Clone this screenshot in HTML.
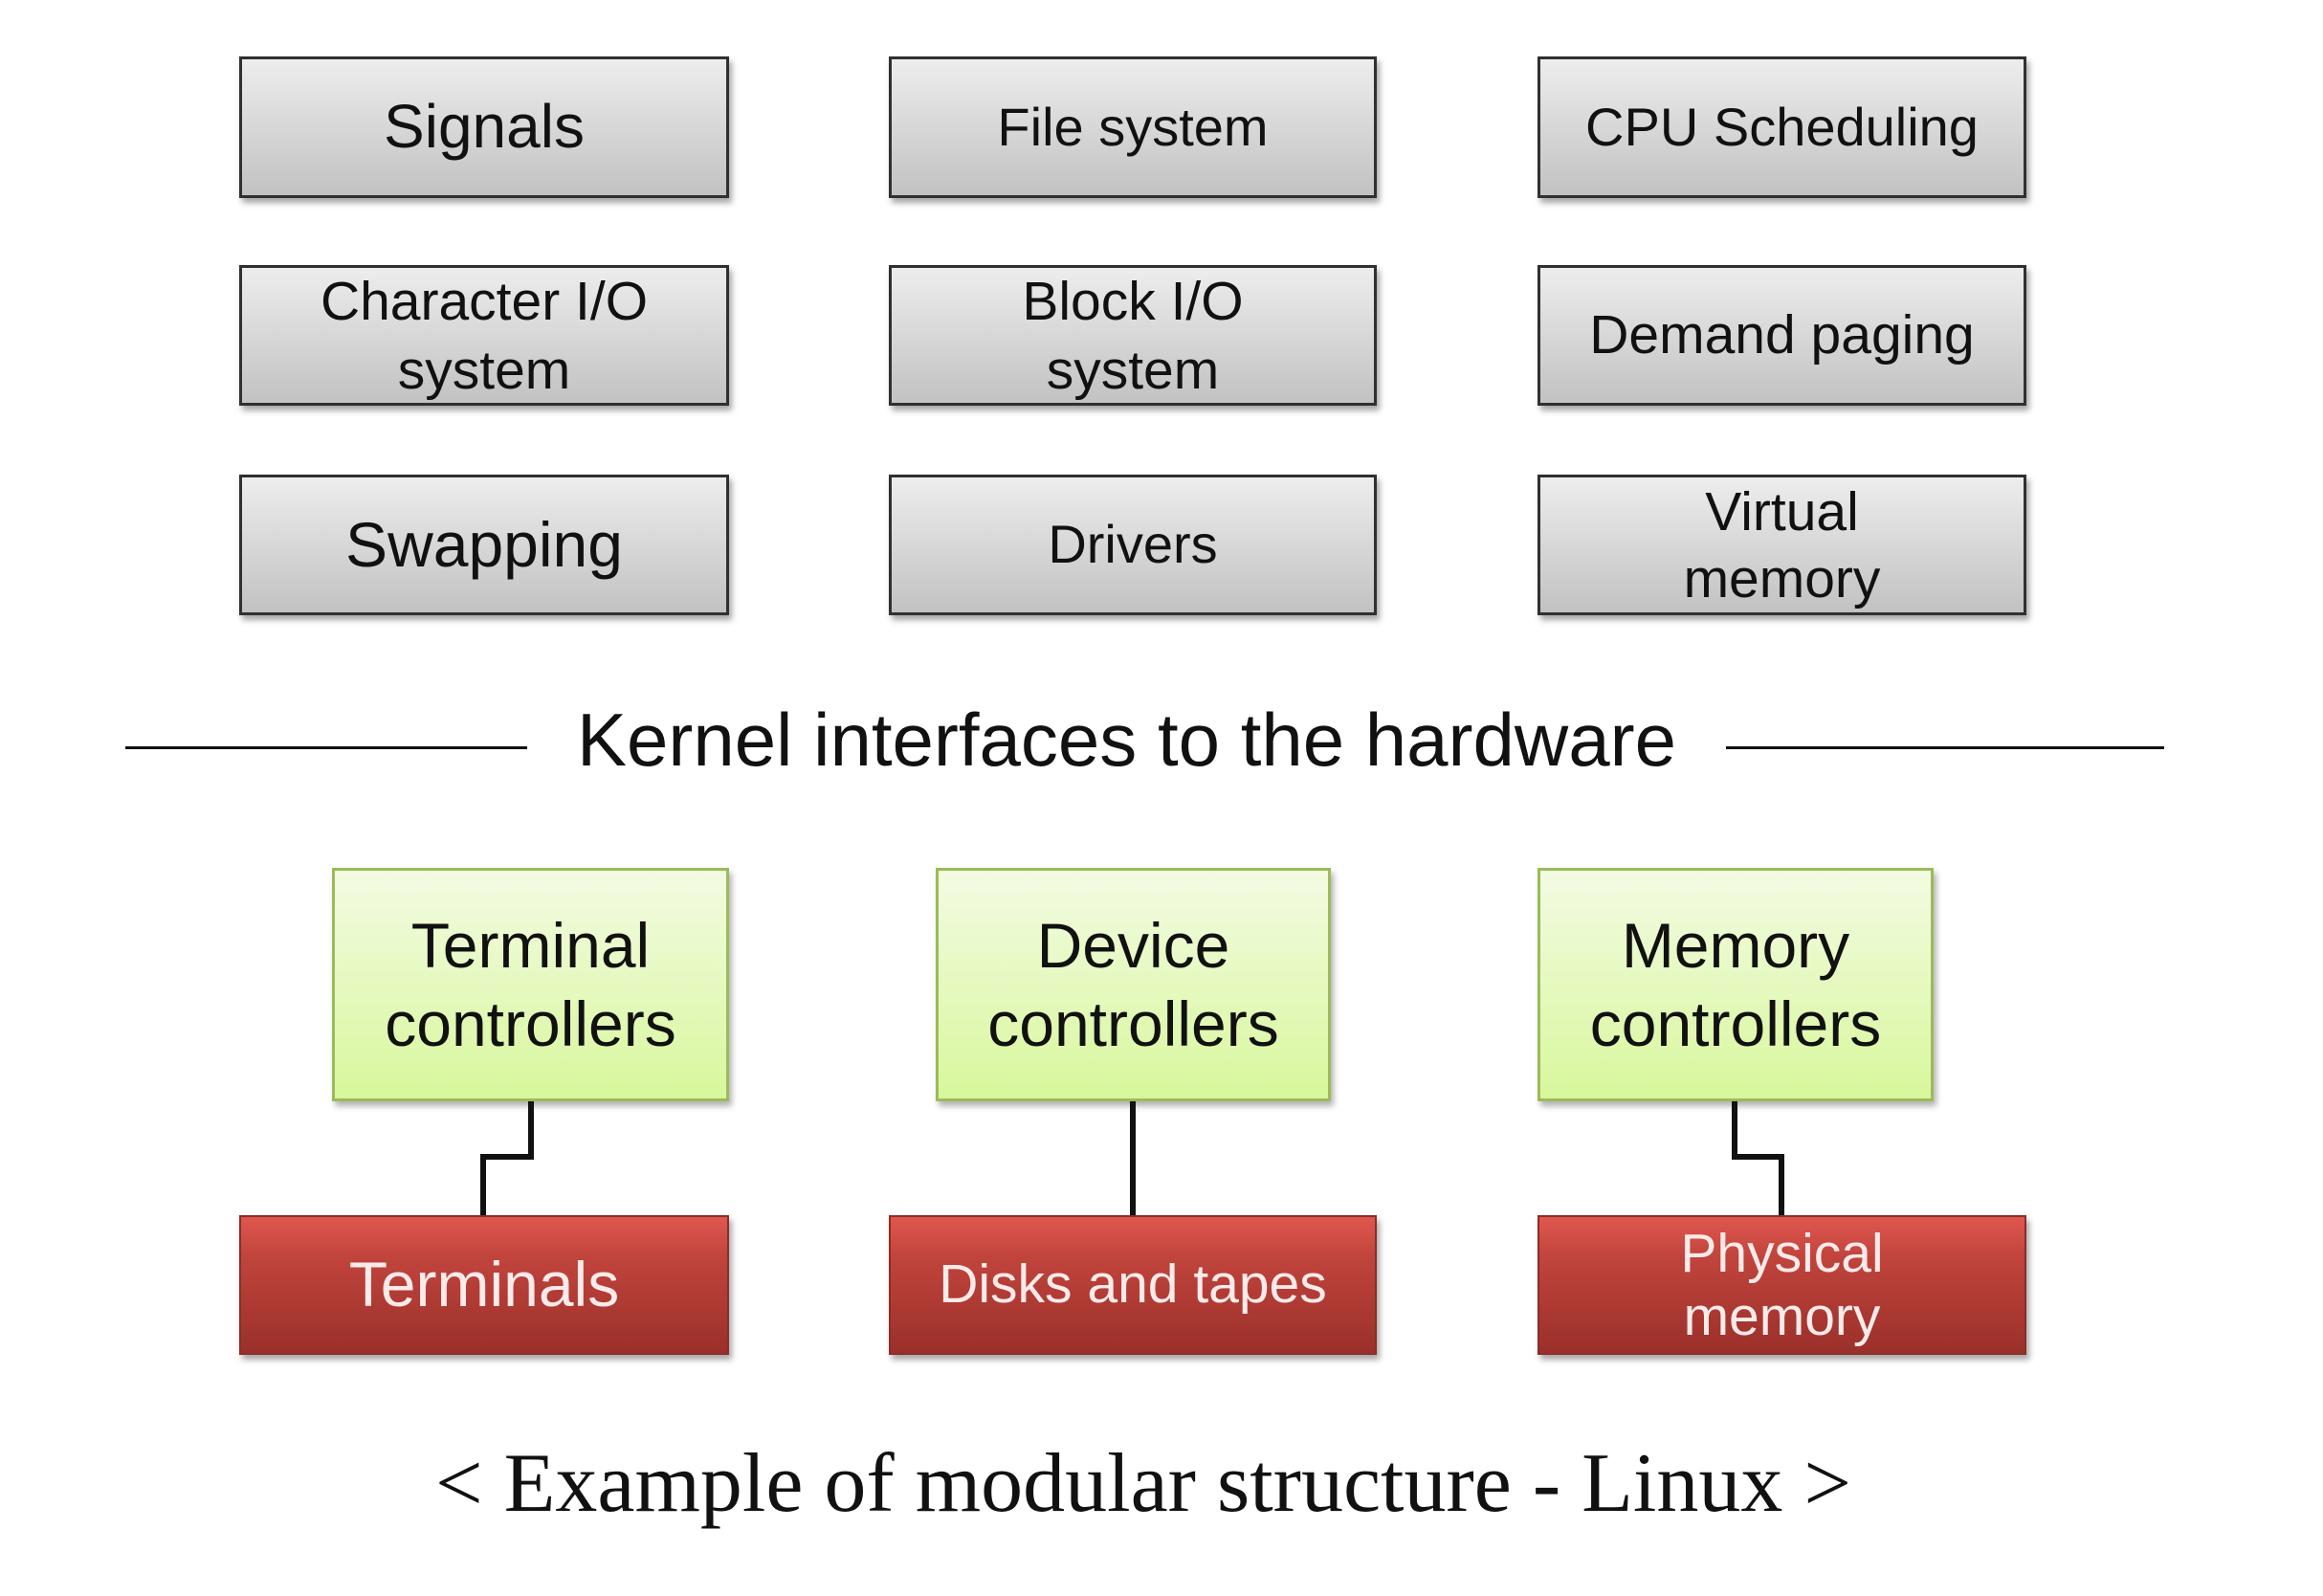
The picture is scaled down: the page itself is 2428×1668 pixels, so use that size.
<!DOCTYPE html>
<html><head><meta charset="utf-8"><style>
body{margin:0;width:2428px;height:1668px;background:#fff;position:relative;overflow:hidden;font-family:"Liberation Sans",sans-serif}
.b{position:absolute;box-sizing:border-box;display:flex;align-items:center;justify-content:center;text-align:center;line-height:1.15}
.g{background:linear-gradient(#ededed,#c2c2c2);border:3px solid #303030;box-shadow:3px 5px 6px rgba(0,0,0,.35);color:#111}
.gr{background:linear-gradient(#f3fbe3,#d8f79c);border:3px solid #9bbb59;box-shadow:3px 5px 6px rgba(0,0,0,.3);color:#111;font-size:66px}
.r{background:linear-gradient(#e0574f,#c0443c 30%,#9a302a);border:2px solid #8c2d28;box-shadow:3px 5px 6px rgba(0,0,0,.35);color:#fbeaea}
.l{position:absolute;background:#111}
</style></head><body>
<div class="b g" style="left:250px;top:59px;width:512px;height:148px;font-size:64px">Signals</div>
<div class="b g" style="left:929px;top:59px;width:510px;height:148px;font-size:56px">File system</div>
<div class="b g" style="left:1607px;top:59px;width:511px;height:148px;font-size:56px">CPU Scheduling</div>
<div class="b g" style="left:250px;top:277px;width:512px;height:147px;font-size:57px;line-height:72px">Character I/O<br>system</div>
<div class="b g" style="left:929px;top:277px;width:510px;height:147px;font-size:57px;line-height:72px">Block I/O<br>system</div>
<div class="b g" style="left:1607px;top:277px;width:511px;height:147px;font-size:57px">Demand paging</div>
<div class="b g" style="left:250px;top:496px;width:512px;height:147px;font-size:66px">Swapping</div>
<div class="b g" style="left:929px;top:496px;width:510px;height:147px;font-size:56px">Drivers</div>
<div class="b g" style="left:1607px;top:496px;width:511px;height:147px;font-size:57px;line-height:70px">Virtual<br>memory</div>

<div class="l" style="left:131px;top:780px;width:420px;height:3px"></div>
<div class="l" style="left:1804px;top:780px;width:458px;height:3px"></div>
<div style="position:absolute;left:551px;top:728px;width:1253px;text-align:center;font-size:78px;color:#111">Kernel interfaces to the hardware</div>

<div class="b gr" style="left:347px;top:907px;width:415px;height:244px;line-height:82px">Terminal<br>controllers</div>
<div class="b gr" style="left:978px;top:907px;width:413px;height:244px;line-height:82px">Device<br>controllers</div>
<div class="b gr" style="left:1607px;top:907px;width:414px;height:244px;line-height:82px">Memory<br>controllers</div>

<svg style="position:absolute;left:0;top:0" width="2428" height="1668">
<g fill="none" stroke="#111" stroke-width="6">
<polyline points="555,1151 555,1209 505,1209 505,1272"/>
<polyline points="1184,1151 1184,1272"/>
<polyline points="1813,1151 1813,1209 1862,1209 1862,1272"/>
</g></svg>

<div class="b r" style="left:250px;top:1270px;width:512px;height:146px;font-size:66px">Terminals</div>
<div class="b r" style="left:929px;top:1270px;width:510px;height:146px;font-size:57px">Disks and tapes</div>
<div class="b r" style="left:1607px;top:1270px;width:511px;height:146px;font-size:57px;line-height:66px">Physical<br>memory</div>

<div style="position:absolute;left:300px;top:1500px;width:1790px;text-align:center;font-family:'Liberation Serif',serif;font-size:88px;color:#111">&lt; Example of modular structure - Linux &gt;</div>
</body></html>
